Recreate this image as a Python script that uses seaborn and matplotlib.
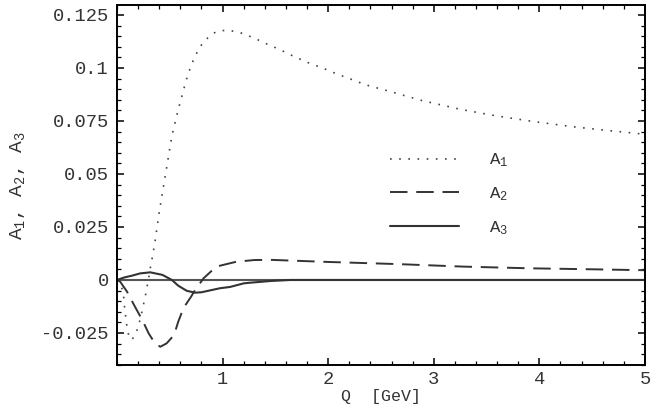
import numpy as np
import pandas as pd
import seaborn as sns
import matplotlib.pyplot as plt
from matplotlib.ticker import MultipleLocator, FixedLocator

# values
q_a1 = [0.0, 0.03, 0.047, 0.063, 0.069, 0.079, 0.085, 0.095, 0.11, 0.14, 0.18, 0.205,
        0.23, 0.25, 0.27, 0.285, 0.30, 0.315, 0.33, 0.36, 0.40, 0.44, 0.48, 0.52,
        0.575, 0.63, 0.67, 0.72, 0.78, 0.83, 0.88, 0.94, 1.04, 1.16, 1.29, 1.42,
        1.55, 1.68, 1.81, 1.95, 2.08, 2.21, 2.35, 2.55, 2.89, 3.25, 3.59, 3.95,
        4.31, 4.67, 5.0]
a1 = [0.0, -0.002, -0.0039, -0.0079, -0.0118, -0.0157, -0.0189, -0.022, -0.026,
      -0.0283, -0.0252, -0.0212, -0.0165, -0.0118, -0.0071, -0.0031, 0.0008, 0.0055,
      0.0094, 0.018, 0.032, 0.044, 0.056, 0.068, 0.0794, 0.0896, 0.0967, 0.1033,
      0.1096, 0.1127, 0.1152, 0.1171, 0.1179, 0.1168, 0.1143, 0.1113, 0.1085,
      0.1053, 0.1025, 0.0999, 0.0972, 0.0948, 0.0921, 0.0894, 0.0846, 0.0805,
      0.0774, 0.0747, 0.0723, 0.0704, 0.0687]

q_a2 = [0.0, 0.03, 0.095, 0.17, 0.24, 0.30, 0.36, 0.41, 0.47, 0.54, 0.58, 0.63,
        0.70, 0.74, 0.82, 0.94, 1.13, 1.3, 1.45, 2.0, 2.65, 3.28, 3.91, 4.54, 5.0]
a2 = [0.0, -0.0008, -0.0055, -0.0126, -0.0189, -0.0252, -0.0299, -0.0315, -0.0299,
      -0.026, -0.0197, -0.0132, -0.008, -0.0047, 0.0008, 0.0063, 0.0086, 0.0094,
      0.0095, 0.0085, 0.0075, 0.0063, 0.0055, 0.005, 0.0046]

q_a3 = [0.0, 0.07, 0.14, 0.22, 0.315, 0.43, 0.52, 0.58, 0.66, 0.74, 0.8, 0.975,
        1.07, 1.2, 1.26, 1.45, 1.64, 2.5, 5.0]
a3 = [0.0, 0.0012, 0.002, 0.0031, 0.0036, 0.0024, 0.0, -0.0027, -0.0051, -0.006,
      -0.0058, -0.0039, -0.0033, -0.0016, -0.0013, -0.0005, 0.0, 0.0, 0.0]

labels = ["A$_1$", "A$_2$", "A$_3$"]
y_ticks = [-0.025, 0, 0.025, 0.05, 0.075, 0.1, 0.125]
y_tick_labels = ["-0.025", "0", "0.025", "0.05", "0.075", "0.1", "0.125"]
x_ticks = [1, 2, 3, 4, 5]

sns.set_style("ticks")
plt.rcParams["font.family"] = ["Liberation Mono", "DejaVu Sans Mono"]
plt.rcParams["mathtext.fontset"] = "custom"
plt.rcParams["mathtext.rm"] = "Liberation Mono"
plt.rcParams["mathtext.it"] = "Liberation Mono"

fig = plt.figure(figsize=(6.58, 4.05), dpi=100)
ax = fig.add_axes([0.1778, 0.0988, 0.8024, 0.8889])

ax.axhline(0, color="#555555", lw=1.5, zorder=1)

sns.lineplot(x=q_a1, y=a1, ax=ax, color="#444444", lw=1.2,
             linestyle=(0, (1, 4.5)), label=labels[0], sort=False)
sns.lineplot(x=q_a2, y=a2, ax=ax, color="#333333", lw=1.4,
             linestyle=(0, (9, 4.5)), label=labels[1], sort=False)
sns.lineplot(x=q_a3, y=a3, ax=ax, color="#333333", lw=1.5,
             label=labels[2], sort=False)

ax.set_xlim(0, 5)
ax.set_ylim(-0.0401, 0.1297)

ax.xaxis.set_major_locator(FixedLocator(x_ticks))
ax.xaxis.set_minor_locator(MultipleLocator(0.2))
ax.yaxis.set_major_locator(FixedLocator(y_ticks))
ax.yaxis.set_minor_locator(MultipleLocator(0.005))
ax.set_yticklabels(y_tick_labels)
ax.tick_params(which="both", direction="in", top=True, right=True,
               colors="black", labelcolor="#333333", labelsize=13.5)
ax.tick_params(which="major", length=5, width=1.1)
ax.tick_params(which="minor", length=3, width=0.9)
ax.tick_params(axis="x", pad=4)
ax.tick_params(axis="y", pad=6)
for s in ax.spines.values():
    s.set_linewidth(1.4)
    s.set_color("black")

ax.set_xlabel("Q  [GeV]", fontsize=12, color="#333333", labelpad=1)
ax.set_ylabel("A$_1$, A$_2$, A$_3$", fontsize=14, color="#333333", labelpad=10)

ax.legend(loc="upper left", bbox_to_anchor=(381 / 658, 1 - 143 / 405),
          bbox_transform=fig.transFigure, frameon=False, borderpad=0,
          handlelength=4.0, handletextpad=1.7, labelspacing=0.92, fontsize=12.5,
          labelcolor="#333333")

fig.savefig("out.png", dpi=100)
